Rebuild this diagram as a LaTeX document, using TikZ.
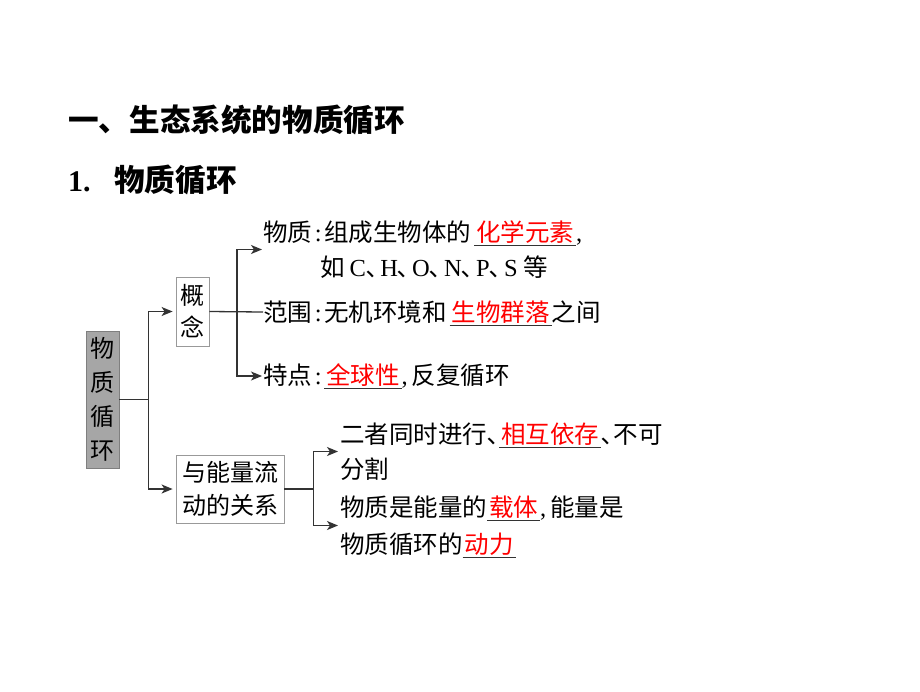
\documentclass[tikz,border=0pt]{standalone}
\usepackage{fontspec}
\setmainfont{Liberation Serif}
\newfontfamily\cjk{Noto Sans CJK SC}
\newfontfamily\lat{Liberation Serif}
\usetikzlibrary{arrows.meta}
\definecolor{ln}{HTML}{333333}
\definecolor{boxgray}{HTML}{A6A6A6}
\definecolor{boxedge}{HTML}{7F7F7F}
\definecolor{lightedge}{HTML}{999999}
\newcommand\lt[1]{{\lat #1}}
\newcommand\dn{､}
\newcommand\dnl{､\hspace{2pt}}
\newcommand\cl{\makebox[12pt][c]{\lat :}}
\newcommand\cm{\makebox[10pt][l]{\lat ,}}
\newcommand\ans[1]{\sbox0{\hspace{2pt}\textcolor{red}{#1}\hspace{2pt}}\rlap{\smash{\color{ln}\rule[-4.5pt]{\wd0}{1pt}}}\usebox0}
\begin{document}
\begin{tikzpicture}[x=1pt,y=-1pt,
  conn/.style={draw=ln, line width=1.3pt},
  arr/.style={conn, -{Stealth[length=11pt,width=9pt,inset=3pt]}},
  txt/.style={inner sep=0pt, align=left, font=\cjk\fontsize{24.5}{35}\selectfont},
  gbox/.style={draw=boxedge, fill=boxgray, line width=0.8pt, inner sep=0pt, align=center, minimum width=33pt, minimum height=137pt, font=\cjk\fontsize{24}{34}\selectfont},
  wbox/.style={draw=lightedge, line width=0.8pt, inner sep=0pt, align=center, font=\cjk\fontsize{24}{33}\selectfont}]
\useasboundingbox[fill=white] (0,0) rectangle (920,691);
\node[anchor=west, inner sep=0pt, font=\cjk\bfseries\fontsize{30.6}{30}\selectfont] (title) at (68,120) {一、生态系统的物质循环};
\node[anchor=west, inner sep=0pt] (sub) at (68,180) {\makebox[46pt][l]{\lat\bfseries\fontsize{30}{30}\selectfont 1.}{\cjk\bfseries\fontsize{30.6}{30}\selectfont 物质循环}};

\node[gbox] (gb) at (102.5,399.5) {物\\质\\循\\环};
\node[wbox, minimum width=33pt, minimum height=69pt, font=\cjk\fontsize{24}{32}\selectfont] (gz) at (192.5,311.5) {概\\念};
\node[wbox, minimum width=108pt, minimum height=68pt] (rel) at (230,489) {与能量流\\动的关系};

\node[txt, anchor=west] (t1) at (263,249.5) {物质\cl 组成生物体的\hspace{3pt}\ans{化学元素}\cm\\\hspace*{57pt}如\hspace{5pt}\lt{C}\dnl\lt{H}\dnl\lt{O}\dnl\lt{N}\dnl\lt{P}\dnl\lt{S}\hspace{6pt}等};
\node[txt, anchor=west] (t2) at (263,312) {范围\cl 无机环境和\hspace{3pt}\ans{生物群落}之间};
\node[txt, anchor=west] (t3) at (263,376) {特点\cl\ans{全球性}\cm 反复循环};

\node[txt, anchor=west] (b1) at (340,451.5) {二者同时进行\dn\ans{相互依存}\dn 不可\\分割};
\node[txt, anchor=west, font=\cjk\fontsize{24.5}{37}\selectfont] (b2) at (340,525.5) {物质是能量的\ans{载体}\cm 能量是\\物质循环的\ans{动力}};

\draw[conn] (gb.east) -- ++(29,0) coordinate (j1);
\draw[arr, shorten >=3pt] (j1) |- (gz.west);
\draw[arr, shorten >=3pt] (j1) |- (rel.west);
\draw[conn] (gz.east) -- (t2.west);
\coordinate (j2) at (237,311.5);
\draw[arr, shorten >=1pt] (j2) |- (t1.west);
\draw[arr, shorten >=1pt] (j2) |- (t3.west);
\draw[conn] (rel.east) -- ++(29,0) coordinate (j3);
\draw[arr, shorten >=2pt] (j3) |- (b1.west);
\draw[arr, shorten >=2pt] (j3) |- (b2.west);
\end{tikzpicture}
\end{document}
